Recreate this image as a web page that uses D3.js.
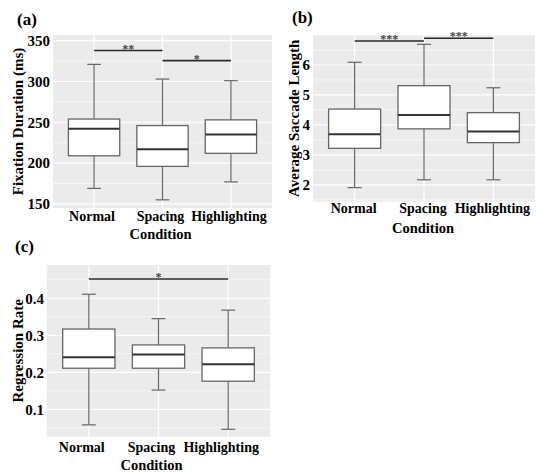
<!DOCTYPE html>
<html lang="en">

<head>
    <meta charset="UTF-8">
    <title>Eye tracking box plots</title>
    <script src="https://d3js.org/d3.v7.min.js"></script>
    <style>
        body {
            margin: 0;
            background: #fff;
        }

        svg {
            display: block;
        }

        text {
            font-family: "Liberation Serif", "Times New Roman", serif;
            font-weight: bold;
            fill: #000;
        }
    </style>
</head>

<body>
    <svg id="chart" width="537" height="473"></svg>

    <script>
        // data
        const conditions = ["Normal", "Spacing", "Highlighting"];

        // [lower whisker, Q1, median, Q3, upper whisker] per condition
        const fixationStats = [
            [169, 209, 242, 254, 321],
            [155, 196, 217, 246, 303],
            [177, 212, 235, 253, 301]
        ];
        const saccadeStats = [
            [1.91, 3.22, 3.69, 4.53, 6.09],
            [2.17, 3.87, 4.33, 5.31, 6.69],
            [2.17, 3.41, 3.78, 4.41, 5.24]
        ];
        const regressionStats = [
            [0.058, 0.211, 0.241, 0.317, 0.411],
            [0.152, 0.211, 0.248, 0.274, 0.345],
            [0.046, 0.176, 0.222, 0.266, 0.368]
        ];

        const fixationTicks = [150, 200, 250, 300, 350];
        const saccadeTicks = [2, 3, 4, 5, 6];
        const regressionTicks = [0.1, 0.2, 0.3, 0.4];

        // significance brackets: from, to, height, stars
        const fixationSig = [["Normal", "Spacing", 338, "**"], ["Spacing", "Highlighting", 325.6, "*"]];
        const saccadeSig = [["Normal", "Spacing", 6.8, "***"], ["Spacing", "Highlighting", 6.89, "***"]];
        const regressionSig = [["Normal", "Highlighting", 0.452, "*"]];

        const svg = d3.select("#chart");

        const panels = [
            {
                tag: "(a)", tagX: 17, tagY: 25,
                x0: 53, x1: 272, y0: 35, y1: 208,
                domain: [145, 357], ticks: fixationTicks, minorStep: 25, fmt: d3.format("d"),
                stats: fixationStats, sig: fixationSig,
                yTitle: "Fixation Duration (ms)", yTitleX: 18,
                labelY: 221, condY: 239, textDx: -2
            },
            {
                tag: "(b)", tagX: 292, tagY: 23,
                x0: 313, x1: 535, y0: 35, y1: 201.7,
                domain: [1.44, 7.0], ticks: saccadeTicks, minorStep: 0.5, fmt: d3.format("d"),
                stats: saccadeStats, sig: saccadeSig,
                yTitle: "Average Saccade Length", yTitleX: 294,
                labelY: 213.3, condY: 233.3, textDx: -1
            },
            {
                tag: "(c)", tagX: 15, tagY: 252,
                x0: 47, x1: 270, y0: 265, y1: 436.7,
                domain: [0.026, 0.49], ticks: regressionTicks, minorStep: 0.05, fmt: d3.format(".1f"),
                stats: regressionStats, sig: regressionSig,
                yTitle: "Regression Rate", yTitleX: 18,
                labelY: 451.7, condY: 469.5, textDx: -7
            }
        ];

        panels.forEach(function (p) {
            const x = d3.scalePoint()
                .domain(conditions)
                .range([p.x0, p.x1])
                .padding(0.6);
            const y = d3.scaleLinear()
                .domain(p.domain)
                .range([p.y1, p.y0]);

            const g = svg.append("g");

            // panel background
            g.append("rect")
                .attr("x", p.x0)
                .attr("y", p.y0)
                .attr("width", p.x1 - p.x0)
                .attr("height", p.y1 - p.y0)
                .attr("fill", "#ebebeb");

            // minor grid (midpoints between major ticks)
            const minor = [];
            const start = Math.ceil(p.domain[0] / p.minorStep);
            for (let k = start; k * p.minorStep <= p.domain[1]; k++) {
                const v = +(k * p.minorStep).toFixed(4);
                if (!p.ticks.some(t => Math.abs(t - v) < 1e-6)) minor.push(v);
            }
            g.selectAll(".minor").data(minor).join("line")
                .attr("x1", p.x0).attr("x2", p.x1)
                .attr("y1", d => y(d)).attr("y2", d => y(d))
                .attr("stroke", "#fff").attr("stroke-width", 0.6);

            // major grid
            g.selectAll(".major").data(p.ticks).join("line")
                .attr("x1", p.x0).attr("x2", p.x1)
                .attr("y1", d => y(d)).attr("y2", d => y(d))
                .attr("stroke", "#fff").attr("stroke-width", 1.2);
            g.selectAll(".vgrid").data(conditions).join("line")
                .attr("x1", d => x(d)).attr("x2", d => x(d))
                .attr("y1", p.y0).attr("y2", p.y1)
                .attr("stroke", "#fff").attr("stroke-width", 1.2);

            // y axis tick labels
            const yAxis = d3.axisLeft(y).tickValues(p.ticks).tickFormat(p.fmt).tickSize(0).tickPadding(3);
            const ya = g.append("g")
                .attr("transform", `translate(${p.x0},0)`)
                .call(yAxis);
            ya.select(".domain").remove();
            ya.selectAll("text")
                .attr("font-size", 15)
                .attr("font-family", null);

            // x labels
            g.selectAll(".xlab").data(conditions).join("text")
                .attr("x", d => x(d) + p.textDx)
                .attr("y", p.labelY)
                .attr("text-anchor", "middle")
                .attr("font-size", 14)
                .text(d => d);

            g.append("text")
                .attr("x", (p.x0 + p.x1) / 2 + p.textDx)
                .attr("y", p.condY)
                .attr("text-anchor", "middle")
                .attr("font-size", 14.5)
                .text("Condition");

            // y title
            g.append("text")
                .attr("transform", `translate(${p.yTitleX},${(p.y0 + p.y1) / 2}) rotate(-90)`)
                .attr("text-anchor", "middle")
                .attr("dominant-baseline", "central")
                .attr("font-size", 15)
                .text(p.yTitle);

            // panel tag
            g.append("text")
                .attr("x", p.tagX)
                .attr("y", p.tagY)
                .attr("font-size", 17)
                .text(p.tag);

            // boxes
            const step = x.step();
            const boxW = step * 0.75;
            const capW = step * 0.2;
            const boxes = g.selectAll(".box")
                .data(p.stats.map((s, i) => ({ cond: conditions[i], s: s })))
                .join("g");

            boxes.append("line")
                .attr("x1", d => x(d.cond)).attr("x2", d => x(d.cond))
                .attr("y1", d => y(d.s[0])).attr("y2", d => y(d.s[4]))
                .attr("stroke", "#666").attr("stroke-width", 1.2);
            boxes.append("line")
                .attr("x1", d => x(d.cond) - capW / 2).attr("x2", d => x(d.cond) + capW / 2)
                .attr("y1", d => y(d.s[0])).attr("y2", d => y(d.s[0]))
                .attr("stroke", "#666").attr("stroke-width", 1.2);
            boxes.append("line")
                .attr("x1", d => x(d.cond) - capW / 2).attr("x2", d => x(d.cond) + capW / 2)
                .attr("y1", d => y(d.s[4])).attr("y2", d => y(d.s[4]))
                .attr("stroke", "#666").attr("stroke-width", 1.2);
            boxes.append("rect")
                .attr("x", d => x(d.cond) - boxW / 2)
                .attr("y", d => y(d.s[3]))
                .attr("width", boxW)
                .attr("height", d => y(d.s[1]) - y(d.s[3]))
                .attr("fill", "#fff")
                .attr("stroke", "#666")
                .attr("stroke-width", 1.3);
            boxes.append("line")
                .attr("x1", d => x(d.cond) - boxW / 2).attr("x2", d => x(d.cond) + boxW / 2)
                .attr("y1", d => y(d.s[2])).attr("y2", d => y(d.s[2]))
                .attr("stroke", "#333").attr("stroke-width", 2);

            // significance brackets
            g.selectAll(".sigline").data(p.sig).join("line")
                .attr("x1", d => x(d[0])).attr("x2", d => x(d[1]))
                .attr("y1", d => y(d[2])).attr("y2", d => y(d[2]))
                .attr("stroke", "#2a2a2a").attr("stroke-width", 1.6);
            g.selectAll(".sigtext").data(p.sig).join("text")
                .attr("x", d => (x(d[0]) + x(d[1])) / 2)
                .attr("y", d => y(d[2]) + 2)
                .attr("text-anchor", "middle")
                .attr("font-size", 12)
                .attr("font-family", "DejaVu Sans")
                .attr("font-weight", "normal")
                .style("fill", "#444")
                .text(d => d[3]);
        });
    </script>
</body>

</html>
